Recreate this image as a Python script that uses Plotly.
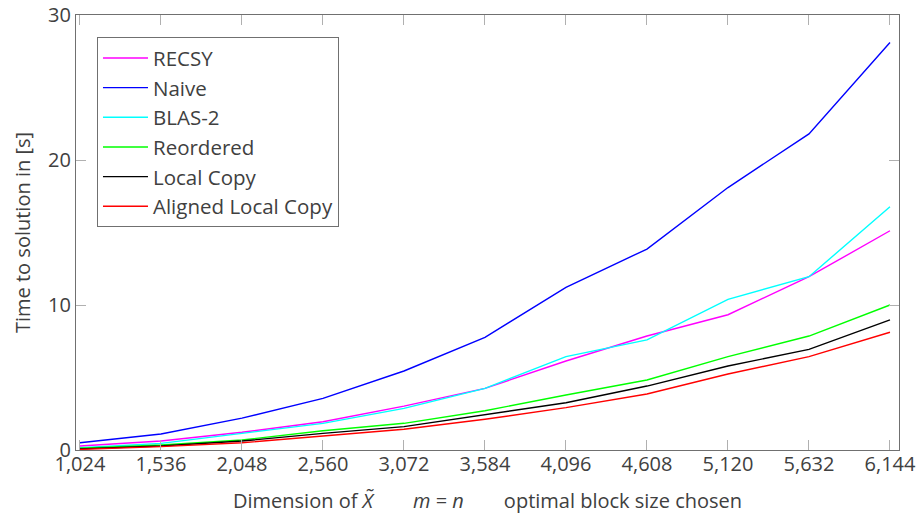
import plotly.graph_objects as go

# Data
dims = [1024, 1536, 2048, 2560, 3072, 3584, 4096, 4608, 5120, 5632, 6144]
recsy = [0.28, 0.62, 1.22, 1.95, 3.03, 4.25, 6.14, 7.86, 9.33, 11.95, 15.12]
naive = [0.50, 1.10, 2.20, 3.56, 5.45, 7.77, 11.22, 13.86, 18.10, 21.80, 28.10]
blas2 = [0.16, 0.46, 1.15, 1.84, 2.87, 4.25, 6.44, 7.59, 10.39, 11.95, 16.78]
reordered = [0.12, 0.34, 0.69, 1.33, 1.84, 2.71, 3.79, 4.83, 6.44, 7.86, 10.00]
local_copy = [0.08, 0.28, 0.62, 1.15, 1.61, 2.41, 3.26, 4.41, 5.79, 6.94, 8.97]
aligned_local_copy = [0.04, 0.23, 0.50, 0.97, 1.43, 2.12, 2.92, 3.86, 5.24, 6.44, 8.12]

series_names = ["RECSY", "Naive", "BLAS-2", "Reordered", "Local Copy", "Aligned Local Copy"]
series_values = [recsy, naive, blas2, reordered, local_copy, aligned_local_copy]
series_colors = ["#ff00ff", "#0000ff", "#00ffff", "#00ff00", "#000000", "#ff0000"]

y_ticks = [0, 10, 20, 30]

x_title = "Dimension of <i>X\u0303</i>\u2003\u2003<i>m</i> = <i>n</i>\u2003\u2003optimal block size chosen"
y_title = "Time to solution in [s]"

FONT = "Open Sans"
TXT = "#404040"
FS = 20

fig = go.Figure()
for name, vals, col in zip(series_names, series_values, series_colors):
    fig.add_trace(go.Scatter(x=dims, y=vals, mode="lines", name=name,
                             line=dict(color=col, width=1.4)))

fig.update_layout(
    width=917, height=515,
    margin=dict(l=76, r=18, t=15, b=65),
    paper_bgcolor="white", plot_bgcolor="white",
    font=dict(family=FONT, size=FS, color=TXT),
    showlegend=True,
    legend=dict(x=0.0255, y=0.949, xanchor="left", yanchor="top",
                bgcolor="white", bordercolor="#707070", borderwidth=1,
                font=dict(family=FONT, size=20.5, color=TXT),
                itemwidth=45, tracegroupgap=0),
    xaxis=dict(range=[999, 6201], tickvals=dims, tickformat=",d",
               automargin=False,
               showgrid=False, zeroline=False,
               showline=True, linecolor="#707070", linewidth=1.2, mirror="ticks",
               ticks="inside", ticklen=10, tickcolor="#b0b0b0", tickwidth=1,
               tickfont=dict(family=FONT, size=FS, color=TXT)),
    yaxis=dict(range=[0, 30], tickvals=y_ticks,
               automargin=False,
               showgrid=False, zeroline=False,
               showline=True, linecolor="#707070", linewidth=1.2, mirror="ticks",
               ticks="inside", ticklen=10, tickcolor="#b0b0b0", tickwidth=1,
               tickfont=dict(family=FONT, size=FS, color=TXT),
               title=dict(text=y_title,
                          font=dict(family=FONT, size=FS, color=TXT), standoff=12)),
    annotations=[dict(text=x_title, xref="paper", yref="paper",
                      x=0.5, y=-0.117, xanchor="center", yanchor="middle",
                      showarrow=False, font=dict(family=FONT, size=FS, color=TXT))],
)

try:
    fig.update_xaxes(ticklabelstandoff=-4)
except Exception:
    pass

fig.write_html("out.html")
